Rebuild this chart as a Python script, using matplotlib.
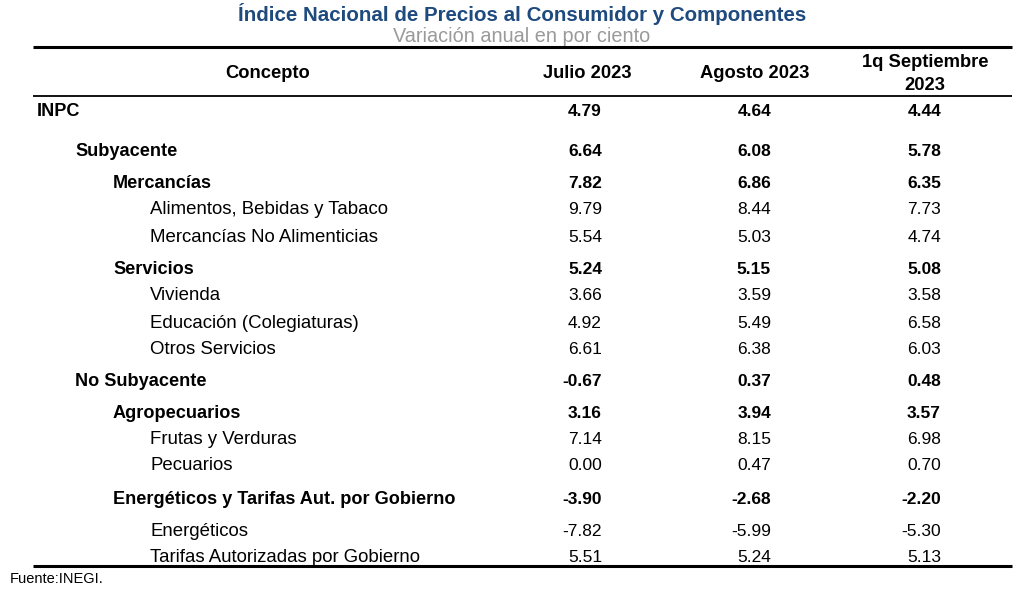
import matplotlib
matplotlib.use("Agg")
import matplotlib.pyplot as plt

# Table contents
conceptos = ["INPC", "Subyacente", "Mercancías", "Alimentos, Bebidas y Tabaco",
             "Mercancías No Alimenticias", "Servicios", "Vivienda",
             "Educación (Colegiaturas)", "Otros Servicios", "No Subyacente",
             "Agropecuarios", "Frutas y Verduras", "Pecuarios",
             "Energéticos y Tarifas Aut. por Gobierno", "Energéticos",
             "Tarifas Autorizadas por Gobierno"]
niveles = [0, 1, 2, 3, 3, 2, 3, 3, 3, 1, 2, 3, 3, 2, 3, 3]
julio_2023 = [4.79, 6.64, 7.82, 9.79, 5.54, 5.24, 3.66, 4.92, 6.61,
              -0.67, 3.16, 7.14, 0.00, -3.90, -7.82, 5.51]
agosto_2023 = [4.64, 6.08, 6.86, 8.44, 5.03, 5.15, 3.59, 5.49, 6.38,
               0.37, 3.94, 8.15, 0.47, -2.68, -5.99, 5.24]
sept_1q_2023 = [4.44, 5.78, 6.35, 7.73, 4.74, 5.08, 3.58, 6.58, 6.03,
                0.48, 3.57, 6.98, 0.70, -2.20, -5.30, 5.13]
encabezados = ["Concepto", "Julio 2023", "Agosto 2023", "1q Septiembre\n2023"]

titulo = "Índice Nacional de Precios al Consumidor y Componentes"
subtitulo = "Variación anual en por ciento"
fuente = "Fuente:INEGI."

# Layout in pixel coordinates
W, H = 1024, 591
row_y = [112, 151, 184, 210, 237, 270, 296, 323, 349, 381, 413, 439, 465, 499, 531, 558]
indent_x = [37, 75, 113, 150]
num_right_x = [602, 771, 941]
header_x = [268, 587, 755, 925]

plt.rcParams['font.family'] = ['Liberation Sans', 'DejaVu Sans']

fig = plt.figure(figsize=(W / 100, H / 100), dpi=100)
ax = fig.add_axes([0, 0, 1, 1])
ax.set_xlim(0, W)
ax.set_ylim(H, 0)
ax.axis("off")

fs_num = 12.5
fs_bold = 13.1
fs_reg = 13.4
fs_head = 13.2

ax.text(522, 14, titulo, ha="center", va="center", fontsize=14.8,
        fontweight="bold", color="#1F4A7E")
ax.text(522, 37, subtitulo, ha="center", va="center", fontsize=14.3,
        color="#9A9A9A")

# Rules
ax.plot([33, 1012], [47, 47], color="black", lw=2.2, solid_capstyle="butt")
ax.plot([33, 1012], [96, 96], color="black", lw=1.3, solid_capstyle="butt")
ax.plot([33, 1012], [566, 566], color="black", lw=2.2, solid_capstyle="butt")

# Header
ax.text(header_x[0], 73, encabezados[0], ha="center", va="center",
        fontsize=fs_head, fontweight="bold")
ax.text(header_x[1], 73, encabezados[1], ha="center", va="center",
        fontsize=fs_head, fontweight="bold")
ax.text(header_x[2], 73, encabezados[2], ha="center", va="center",
        fontsize=fs_head, fontweight="bold")
ax.text(header_x[3], 74, encabezados[3], ha="center", va="center",
        fontsize=fs_head, fontweight="bold", linespacing=1.4)

# Body
for i, concepto in enumerate(conceptos):
    bold = niveles[i] < 3
    weight = "bold" if bold else "normal"
    ax.text(indent_x[niveles[i]], row_y[i], concepto, ha="left", va="center",
            fontsize=fs_bold if bold else fs_reg, fontweight=weight)
    for j, serie in enumerate([julio_2023, agosto_2023, sept_1q_2023]):
        ax.text(num_right_x[j], row_y[i], f"{serie[i]:.2f}", ha="right",
                va="center", fontsize=fs_num, fontweight=weight)

ax.text(10, 579, fuente, ha="left", va="center", fontsize=10.5)

fig.savefig("out.png", dpi=100)
